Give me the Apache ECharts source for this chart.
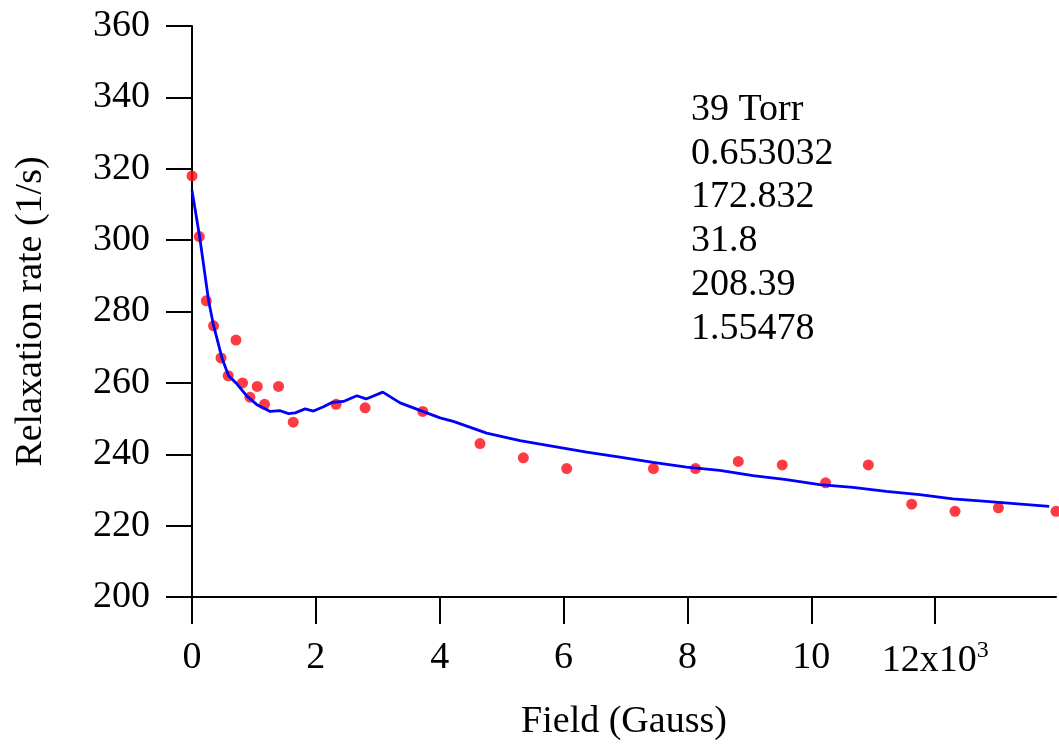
<!DOCTYPE html>
<html>
<head>
<meta charset="utf-8">
<style>
  html, body { margin: 0; padding: 0; background: #fff; }
  #chart { width: 1059px; height: 746px; }
</style>
<script src="https://cdn.jsdelivr.net/npm/echarts@6/dist/echarts.min.js"></script>
</head>
<body>
<div id="chart"></div>
<script>
// Measured relaxation rate vs. field (field in units of 10^3 Gauss)
const fieldData = [0, 0.118, 0.231, 0.348, 0.468, 0.585, 0.71, 0.816, 0.935, 1.053, 1.171, 1.397, 1.634,
  2.327, 2.795, 3.726, 4.65, 5.35, 6.05, 7.45, 8.13, 8.82, 9.53, 10.23, 10.92, 11.62, 12.32, 13.02, 13.95];
const rateData = [318, 301, 283, 276, 267, 262, 272, 260, 256, 259, 254, 259, 249,
  254, 253, 252, 243, 239, 236, 236, 236, 238, 237, 232, 237, 226, 224, 225, 224];

// Fitted model curve
const fitField = [0, 0.123, 0.268, 0.348, 0.484, 0.59, 0.71, 0.887, 1.048, 1.263, 1.424, 1.558, 1.666,
  1.827, 1.961, 2.123, 2.258, 2.445, 2.661, 2.811, 3.081, 3.36, 3.574, 4.005, 4.219, 4.758, 5.295,
  5.832, 6.371, 6.908, 7.445, 7.984, 8.521, 9.058, 9.597, 10.134, 10.671, 11.21, 11.747, 12.284,
  12.823, 13.84];
const fitRate = [313.9, 301.0, 283.0, 276.1, 267.0, 262.0, 260.0, 256.3, 253.9, 252.0, 252.2, 251.4, 251.6,
  252.7, 252.1, 253.3, 254.5, 254.8, 256.4, 255.5, 257.4, 254.4, 253.0, 250.2, 249.2, 245.9, 243.8,
  242.2, 240.6, 239.2, 237.7, 236.4, 235.5, 234.0, 232.9, 231.5, 230.7, 229.6, 228.7, 227.5,
  226.8, 225.4];

// Fit parameters shown in the annotation block
const annotationLines = ['39 Torr', '0.653032', '172.832', '31.8', '208.39', '1.55478'];

const xTicks = [0, 2, 4, 6, 8, 10, 12];
const FONT = '"Liberation Serif", "Times New Roman", serif';
const FS = 38;

const chart = echarts.init(document.getElementById('chart'), null, { renderer: 'canvas' });

const option = {
  backgroundColor: '#ffffff',
  animation: false,
  grid: { left: 192, right: 3, top: 26, bottom: 149, containLabel: false },
  xAxis: {
    type: 'value',
    min: 0,
    max: 13.95,
    interval: 2,
    name: 'Field (Gauss)',
    nameLocation: 'middle',
    nameGap: 106,
    nameTextStyle: { fontFamily: FONT, fontSize: FS, color: '#000' },
    axisLine: { show: true, onZero: false, lineStyle: { color: '#000', width: 2 } },
    axisTick: { show: true, inside: false, length: 27, lineStyle: { color: '#000', width: 2 } },
    splitLine: { show: false },
    axisLabel: {
      margin: 42,
      showMaxLabel: false,
      fontFamily: FONT,
      fontSize: FS,
      color: '#000',
      formatter: function (v) {
        if (xTicks.indexOf(v) < 0) return '';
        if (v === 12) return '{a|12x10}{s|3}';
        return String(v);
      },
      rich: {
        a: { fontFamily: FONT, fontSize: FS, color: '#000' },
        s: { fontFamily: FONT, fontSize: 24, color: '#000', verticalAlign: 'top', padding: [0, 0, 20, 0] }
      }
    }
  },
  yAxis: {
    type: 'value',
    min: 200,
    max: 360,
    interval: 20,
    name: 'Relaxation rate (1/s)',
    nameLocation: 'middle',
    nameGap: 142,
    nameTextStyle: { fontFamily: FONT, fontSize: FS, color: '#000' },
    axisLine: { show: true, onZero: false, lineStyle: { color: '#000', width: 2 } },
    axisTick: { show: true, inside: false, length: 26, lineStyle: { color: '#000', width: 2 } },
    splitLine: { show: false },
    axisLabel: { margin: 42, fontFamily: FONT, fontSize: FS, color: '#000' }
  },
  graphic: [{
    type: 'text',
    left: 691,
    top: 88,
    style: {
      text: annotationLines.join('\n'),
      font: FS + 'px ' + FONT,
      lineHeight: 43.8,
      fill: '#000'
    }
  }],
  series: [
    {
      type: 'scatter',
      data: fieldData.map((x, i) => [x, rateData[i]]),
      symbol: 'circle',
      symbolSize: 11,
      clip: false,
      itemStyle: { color: '#fe0a14' },
      z: 2
    },
    {
      type: 'line',
      data: fitField.map((x, i) => [x, fitRate[i]]),
      showSymbol: false,
      smooth: false,
      lineStyle: { color: '#0000ff', width: 2.8 },
      z: 3
    }
  ]
};

chart.setOption(option);
</script>
</body>
</html>
